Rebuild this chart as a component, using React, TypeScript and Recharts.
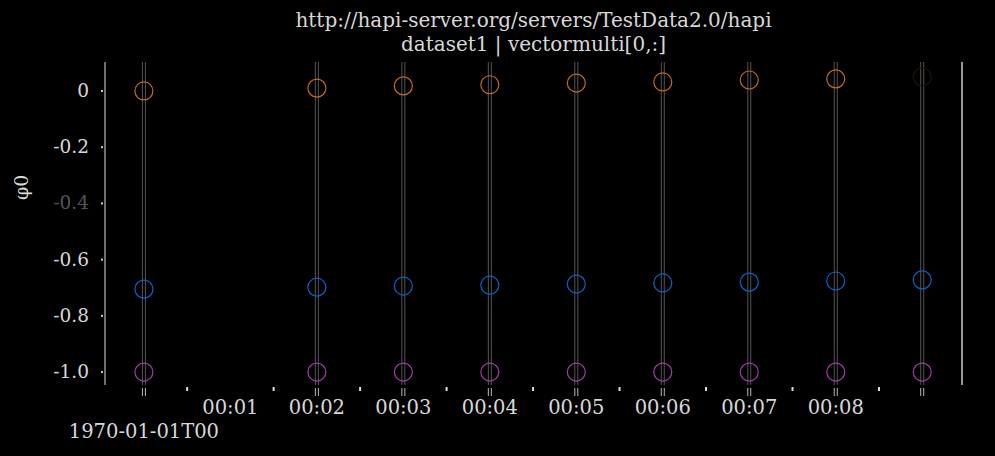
import React from "react";
import {
  ScatterChart,
  Scatter,
  XAxis,
  YAxis,
  ReferenceLine,
  Cell,
} from "recharts";

// minutes after 1970-01-01T00:00 (no sample at 00:01)
const times = [0, 2, 3, 4, 5, 6, 7, 8, 9];
const comp0 = [0, 0.01, 0.018, 0.022, 0.028, 0.032, 0.039, 0.043, 0.05];
const comp1 = [-0.705, -0.698, -0.694, -0.691, -0.687, -0.683, -0.68, -0.676, -0.672];
const comp2 = [-1, -1, -1, -1, -1, -1, -1, -1, -1];
const xTicks = [0, 0.5, 1, 1.5, 2, 2.5, 3, 3.5, 4, 4.5, 5, 5.5, 6, 6.5, 7, 7.5, 8, 8.5];
const yTicks = [0, -0.2, -0.4, -0.6, -0.8, -1.0];

const FONT = "'DejaVu Serif', serif";
const TXT = "#d8d8d8";

const toRows = (vals: number[]) => times.map((t, i) => ({ t, v: vals[i] }));

const ring = (color: string) => (p: any) => (
  <circle cx={p.cx} cy={p.cy} r={9} fill="none" stroke={p.stroke || color} strokeWidth={1.2} />
);

function GridShape(p: any) {
  const x = p.x1;
  const top = Math.min(p.y1, p.y2);
  const bot = Math.max(p.y1, p.y2);
  return (
    <g strokeWidth={1}>
      <line x1={x - 1.5} x2={x - 1.5} y1={top} y2={bot} stroke="#555" />
      <line x1={x + 1.5} x2={x + 1.5} y1={top} y2={bot} stroke="#555" />
      <line x1={x - 1.5} x2={x - 1.5} y1={bot + 3} y2={bot + 11} stroke="#bbb" />
      <line x1={x + 1.5} x2={x + 1.5} y1={bot + 3} y2={bot + 11} stroke="#bbb" />
    </g>
  );
}

function XTick(p: any) {
  const { x, y, payload } = p;
  const v = payload.value;
  if (v % 1 !== 0) {
    return <rect x={x - 1} y={y - 6} width={2} height={4} fill="#ddd" />;
  }
  const mm = String(v).padStart(2, "0");
  return (
    <g>
      {v === 0 ? (
        <text x={x} y={y + 45} textAnchor="middle" fill={TXT} fontFamily={FONT} fontSize={19.5}>
          1970-01-01T00
        </text>
      ) : (
        <text x={x} y={y + 21} textAnchor="middle" fill={TXT} fontFamily={FONT} fontSize={19.5}>
          {"00:" + mm}
        </text>
      )}
    </g>
  );
}

function YTick(p: any) {
  const { x, y, payload } = p;
  const v = payload.value;
  const label = v === 0 ? "0" : v.toFixed(1);
  return (
    <g>
      <rect x={x + 4} y={y - 1} width={2} height={2} fill="#ccc" />
      <text
        x={x - 8}
        y={y + 6}
        textAnchor="end"
        fill={v === -0.4 ? "#555" : TXT}
        fontFamily={FONT}
        fontSize={18.5}
      >
        {label}
      </text>
    </g>
  );
}

export default function App() {
  return (
    <div
      style={{
        position: "absolute",
        left: 0,
        top: 0,
        width: 995,
        height: 456,
        background: "#000",
        fontFamily: FONT,
      }}
    >
      <div
        style={{
          position: "absolute",
          left: 105,
          width: 857,
          top: 8,
          textAlign: "center",
          color: TXT,
          fontSize: 20,
          lineHeight: "24px",
        }}
      >
        <div>http://hapi-server.org/servers/TestData2.0/hapi</div>
        <div>dataset1 | vectormulti[0,:]</div>
      </div>
      <div
        style={{
          position: "absolute",
          left: 10,
          top: 200,
          transform: "rotate(-90deg)",
          transformOrigin: "left top",
          color: TXT,
          fontSize: 19,
        }}
      >
        φ0
      </div>
      <ScatterChart width={995} height={456} margin={{ top: 62, right: 32, bottom: 0, left: 0 }}>
        <XAxis
          type="number"
          dataKey="t"
          domain={[-0.45, 9.46]}
          ticks={xTicks}
          tick={<XTick />}
          axisLine={false}
          tickLine={false}
          height={71}
          allowDataOverflow
        />
        <YAxis
          type="number"
          dataKey="v"
          domain={[-1.046, 0.103]}
          ticks={yTicks}
          tick={<YTick />}
          tickLine={false}
          axisLine={{ stroke: "#ddd", strokeWidth: 1 }}
          width={105}
          allowDataOverflow
        />
        <YAxis
          yAxisId="right"
          orientation="right"
          type="number"
          domain={[-1.046, 0.103]}
          tick={false}
          tickLine={false}
          axisLine={{ stroke: "#ccc", strokeWidth: 1.5 }}
          width={1}
        />
        {times.map((t) => (
          <ReferenceLine key={t} x={t} shape={<GridShape />} ifOverflow="extendDomain" />
        ))}
        <Scatter data={toRows(comp0)} shape={ring("#c8691e")} isAnimationActive={false}>
          {times.map((t, i) => (
            <Cell key={t} stroke={i === times.length - 1 ? "#1e1408" : "#c8691e"} />
          ))}
        </Scatter>
        <Scatter data={toRows(comp1)} shape={ring("#0a64c8")} isAnimationActive={false} />
        <Scatter data={toRows(comp2)} shape={ring("#a03ca8")} isAnimationActive={false} />
      </ScatterChart>
    </div>
  );
}
